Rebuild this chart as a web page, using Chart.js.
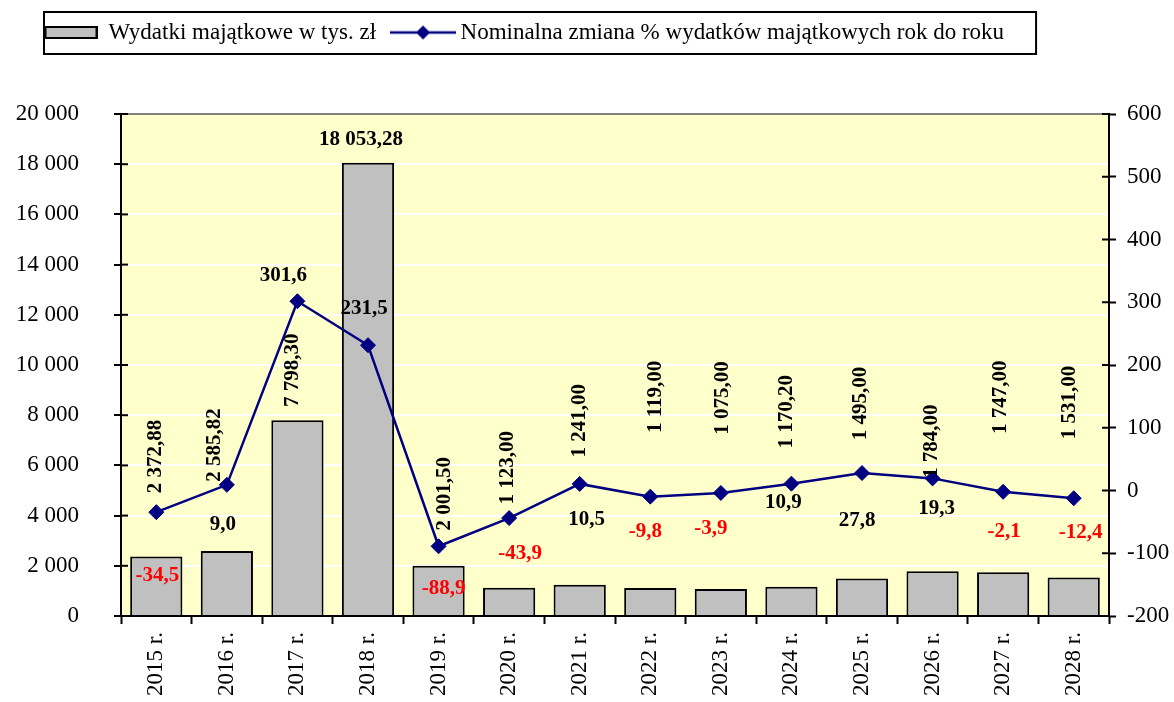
<!DOCTYPE html>
<html lang="pl">
<head>
<meta charset="utf-8">
<title>Wydatki majątkowe</title>
<script src="https://cdn.jsdelivr.net/npm/chart.js@4.4.1/dist/chart.umd.min.js"></script>
<style>
  html, body { margin: 0; padding: 0; background: #fff; }
  #wrap { position: relative; width: 1174px; height: 702px; }
</style>
</head>
<body>
<div id="wrap"><canvas id="chart"></canvas></div>
<script>
/* ─── Data ───────────────────────────────────── */
const years = ['2015 r.', '2016 r.', '2017 r.', '2018 r.', '2019 r.', '2020 r.', '2021 r.',
               '2022 r.', '2023 r.', '2024 r.', '2025 r.', '2026 r.', '2027 r.', '2028 r.'];
const wydatki = [2372.88, 2585.82, 7798.30, 18053.28, 2001.50, 1123.00, 1241.00,
                 1119.00, 1075.00, 1170.20, 1495.00, 1784.00, 1747.00, 1531.00];
const zmiana = [-34.5, 9.0, 301.6, 231.5, -88.9, -43.9, 10.5,
                -9.8, -3.9, 10.9, 27.8, 19.3, -2.1, -12.4];

/* ─── Label placement (px, relative to the mark) ─ */
const barLabelLift = [100, 106, 50, 23, 72, 120, 164, 191, 191, 175, 175, 130, 175, 175];
const barLabelDx   = [-1, -12, -5, -7, 6, -2, 0, 5, 2, -5, -1, -1, -3, -4];
const barLabelFlat = [false, false, false, true, false, false, false,
                      false, false, false, false, false, false, false];
const lineLabelDy  = [63, 40, -26, -37, 42, 36, 36, 35, 36, 19, 48, 30, 40, 34];
const lineLabelDx  = [1, -4, -14, -4, 5, 11, 7, -5, -10, -8, -5, 4, 1, 7];

/* ─── Shared defaults ────────────────────────── */
const SERIF = "'Liberation Serif', 'Times New Roman', serif";
Chart.defaults.font.family = SERIF;
Chart.defaults.font.size = 23;
Chart.defaults.color = '#000';

const NAVY = '#000080';
const LEGEND_LEFT = 24;
const fmt = (v, d) => v.toFixed(d).replace('.', ',').replace(/\B(?=(\d{3})+(?!\d))/g, ' ');

/* legend swatches */
function barSwatch() {
  const c = document.createElement('canvas');
  c.width = 53; c.height = 13;
  const g = c.getContext('2d');
  g.fillStyle = '#C0C0C0';
  g.fillRect(1, 1, 51, 11);
  g.lineWidth = 2;
  g.strokeStyle = '#000';
  g.strokeRect(1, 1, 51, 11);
  return c;
}
function lineSwatch() {
  const c = document.createElement('canvas');
  c.width = 66; c.height = 18;
  const g = c.getContext('2d');
  g.strokeStyle = NAVY;
  g.lineWidth = 2.5;
  g.beginPath(); g.moveTo(0, 9); g.lineTo(66, 9); g.stroke();
  g.fillStyle = NAVY;
  g.beginPath();
  g.moveTo(33, 2); g.lineTo(40, 9); g.lineTo(33, 16); g.lineTo(26, 9);
  g.closePath(); g.fill();
  return c;
}
const swatches = [barSwatch(), lineSwatch()];

/* ═══════════════════════════════════════════════
   Plugins
═══════════════════════════════════════════════ */
const plotBackground = {
  id: 'plotBackground',
  beforeDraw(chart) {
    const { ctx, chartArea: a } = chart;
    ctx.save();
    ctx.fillStyle = '#FFFFCC';
    ctx.fillRect(a.left, a.top, a.right - a.left, a.bottom - a.top);
    ctx.restore();
  }
};

// tick marks cross the axis line, so add the inner half
const innerTicks = {
  id: 'innerTicks',
  afterDraw(chart) {
    const { ctx, chartArea: a } = chart;
    ctx.save();
    ctx.strokeStyle = '#000';
    ctx.lineWidth = 2;
    ['y', 'y1'].forEach(id => {
      const s = chart.scales[id];
      s.ticks.forEach(t => {
        const y = s.getPixelForValue(t.value);
        const x0 = id === 'y' ? a.left : a.right;
        const x1 = id === 'y' ? a.left + 7 : a.right - 7;
        ctx.beginPath(); ctx.moveTo(x0, y); ctx.lineTo(x1, y); ctx.stroke();
      });
    });
    ctx.restore();
  }
};

// legend sits a bit in from the left edge and has a black frame
const legendFrame = {
  id: 'legendFrame',
  afterLayout(chart) {
    chart.legend.left = LEGEND_LEFT;
  },
  afterDraw(chart) {
    const boxes = chart.legend.legendHitBoxes;
    if (!boxes || !boxes.length) return;
    const first = boxes[0], last = boxes[boxes.length - 1];
    const { ctx } = chart;
    ctx.save();
    ctx.strokeStyle = '#000';
    ctx.lineWidth = 2;
    const left = first.left - 1;
    const top = first.top - 9;
    ctx.strokeRect(left, top, last.left + last.width + 32 - left, first.height + 19);
    ctx.restore();
  }
};

const valueLabels = {
  id: 'valueLabels',
  afterDatasetsDraw(chart) {
    const ctx = chart.ctx;
    const bars = chart.getDatasetMeta(0).data;
    const pts = chart.getDatasetMeta(1).data;
    ctx.save();
    ctx.font = `bold 21px ${SERIF}`;
    ctx.textAlign = 'center';
    ctx.textBaseline = 'middle';

    bars.forEach((bar, i) => {
      const x = bar.x + barLabelDx[i];
      const y = bar.y - barLabelLift[i];
      ctx.fillStyle = '#000';
      if (barLabelFlat[i]) {
        ctx.fillText(fmt(wydatki[i], 2), x, y);
      } else {
        ctx.save();
        ctx.translate(x, y);
        ctx.rotate(-Math.PI / 2);
        ctx.fillText(fmt(wydatki[i], 2), 0, 0);
        ctx.restore();
      }
    });

    pts.forEach((pt, i) => {
      ctx.fillStyle = zmiana[i] < 0 ? '#FF0000' : '#000';
      ctx.fillText(fmt(zmiana[i], 1), pt.x + lineLabelDx[i], pt.y + lineLabelDy[i]);
    });
    ctx.restore();
  }
};

/* ═══════════════════════════════════════════════
   Chart
═══════════════════════════════════════════════ */
new Chart(document.getElementById('chart'), {
  data: {
    labels: years,
    datasets: [
      {
        type: 'bar',
        label: 'Wydatki majątkowe w tys. zł',
        data: wydatki,
        xAxisID: 'x',
        yAxisID: 'y',
        backgroundColor: '#C0C0C0',
        borderColor: '#000',
        borderWidth: 2,
        categoryPercentage: 1,
        barPercentage: 0.74,
        order: 2
      },
      {
        type: 'line',
        label: 'Nominalna zmiana % wydatków majątkowych rok do roku',
        data: zmiana,
        xAxisID: 'x',
        yAxisID: 'y1',
        borderColor: NAVY,
        backgroundColor: NAVY,
        borderWidth: 2.5,
        pointStyle: 'rectRot',
        pointRadius: 7.5,
        pointBackgroundColor: NAVY,
        pointBorderColor: NAVY,
        pointBorderWidth: 1,
        tension: 0,
        order: 1
      }
    ]
  },
  options: {
    responsive: true,
    maintainAspectRatio: false,
    animation: false,
    layout: { padding: 0 },
    plugins: {
      tooltip: { enabled: false },
      legend: {
        position: 'top',
        align: 'start',
        labels: {
          usePointStyle: true,
          pointStyleWidth: 52,
          padding: 21,
          font: { size: 23 },
          color: '#000',
          sort: (a, b) => a.datasetIndex - b.datasetIndex,
          generateLabels(chart) {
            const items = Chart.defaults.plugins.legend.labels.generateLabels(chart);
            items.forEach(it => { it.pointStyle = swatches[it.datasetIndex]; });
            return items;
          }
        }
      }
    },
    scales: {
      x: {
        type: 'category',
        position: 'bottom',
        offset: true,
        grid: {
          offset: true,
          drawOnChartArea: false,
          tickLength: 8,
          tickColor: '#000',
          tickWidth: 2
        },
        border: { color: '#000', width: 2 },
        ticks: { minRotation: 90, maxRotation: 90, padding: 8 },
        afterFit: s => { s.height = 86; }
      },
      // empty band between the legend and the plot
      xTop: {
        type: 'category',
        position: 'top',
        display: true,
        grid: { display: false },
        border: { display: false },
        ticks: { display: false },
        afterFit: s => { s.height = 60; }
      },
      y: {
        position: 'left',
        min: 0,
        max: 20000,
        grid: {
          color: c => c.tick.value === 20000 ? '#808080' : (c.tick.value === 0 ? '#000' : '#FFFFFF'),
          lineWidth: 2,
          tickLength: 7,
          tickColor: '#000',
          tickWidth: 2
        },
        border: { color: '#000', width: 2 },
        ticks: {
          stepSize: 2000,
          padding: 35,
          callback: v => String(v).replace(/\B(?=(\d{3})+(?!\d))/g, ' ')
        },
        afterFit: s => { s.width = 121; }
      },
      y1: {
        position: 'right',
        min: -200,
        max: 600,
        grid: {
          drawOnChartArea: false,
          tickLength: 7,
          tickColor: '#000',
          tickWidth: 2
        },
        border: { color: '#000', width: 2 },
        ticks: { stepSize: 100, padding: 11, callback: v => String(v) },
        afterFit: s => { s.width = 65; }
      }
    }
  },
  plugins: [plotBackground, innerTicks, legendFrame, valueLabels]
});
</script>
</body>
</html>
